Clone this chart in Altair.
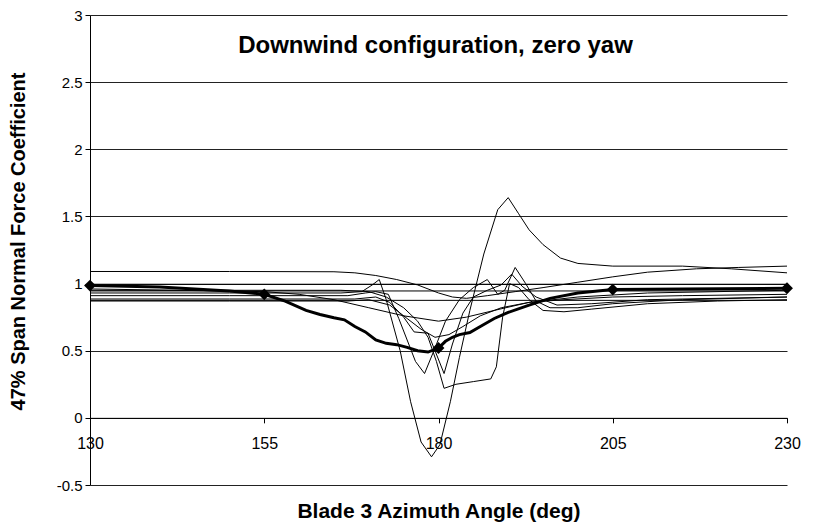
import altair as alt
import pandas as pd

FONT = "Liberation Sans"

# ---- data ----
x_ticks = [130, 155, 180, 205, 230]
y_ticks = [-0.5, 0, 0.5, 1, 1.5, 2, 2.5, 3]

s1_x = [130, 150, 165, 168, 171, 174, 177, 180, 182, 184, 187, 191, 195, 200, 205, 210, 217, 223, 230]
s1_y = [1.09, 1.09, 1.088, 1.08, 1.06, 1.03, 0.99, 0.93, 0.90, 0.89, 0.91, 0.94, 0.97, 1.01, 1.05, 1.085, 1.11, 1.12, 1.13]

s2_x = [130, 150, 166, 169, 170.5, 171.5, 172.5, 174.5, 176, 177.5, 179, 180.2, 181.7, 183, 184.5, 186.5, 188.5, 190, 191.5, 193, 195, 197.5, 200, 205, 215, 222, 230]
s2_y = [0.93, 0.93, 0.93, 0.94, 0.99, 1.03, 0.88, 0.5, 0.12, -0.18, -0.29, -0.2, 0.12, 0.45, 0.8, 1.22, 1.55, 1.64, 1.52, 1.4, 1.29, 1.19, 1.15, 1.13, 1.13, 1.11, 1.08]

s3_x = [130, 150, 167, 169.5, 171, 172.8, 174.3, 176.7, 178, 179.5, 181, 183, 185, 187, 188.5, 189.5, 191, 192.5, 194, 196, 200, 205, 215, 230]
s3_y = [0.91, 0.91, 0.91, 0.93, 0.94, 0.92, 0.74, 0.42, 0.33, 0.52, 0.72, 0.88, 0.97, 1.03, 0.92, 0.95, 1.12, 1.0, 0.87, 0.82, 0.82, 0.85, 0.88, 0.9]

s4_x = [130, 150, 166, 170, 172.5, 175, 177, 178.5, 179.7, 180.8, 182.5, 185, 187.5, 188.3, 189.2, 190.2, 191.5, 193, 195, 198, 202, 210, 220, 230]
s4_y = [0.95, 0.95, 0.95, 0.94, 0.9, 0.82, 0.72, 0.6, 0.42, 0.22, 0.25, 0.27, 0.29, 0.38, 0.75, 1.0, 0.97, 0.88, 0.8, 0.79, 0.81, 0.85, 0.87, 0.88]

s5_x = [130, 150, 168, 171, 173, 175, 176.5, 178.5, 179.5, 180.8, 182, 183.5, 185, 187, 189, 190.5, 192, 194, 197, 202, 210, 230]
s5_y = [0.885, 0.885, 0.885, 0.9, 0.86, 0.75, 0.64, 0.63, 0.5, 0.33, 0.55, 0.78, 0.9, 0.95, 0.99, 1.07, 0.98, 0.9, 0.84, 0.85, 0.88, 0.9]

s6_x = [130, 155, 160, 165, 170, 175, 180, 184, 188, 193, 200, 210, 230]
s6_y = [0.96, 0.94, 0.92, 0.88, 0.82, 0.76, 0.72, 0.75, 0.8, 0.86, 0.9, 0.93, 0.95]

s7_x = [130, 150, 167, 170, 173, 175.5, 177.5, 179.5, 181.5, 183.5, 186, 189, 193, 198, 205, 215, 230]
s7_y = [0.87, 0.87, 0.87, 0.88, 0.84, 0.74, 0.66, 0.6, 0.62, 0.68, 0.76, 0.82, 0.86, 0.88, 0.9, 0.91, 0.92]

s8_x = [130, 230]
s8_y = [0.995, 0.995]
s9_x = [130, 230]
s9_y = [0.945, 0.945]
s10_x = [130, 230]
s10_y = [0.875, 0.875]

mean_x = [130, 140, 150, 155, 158, 161, 163, 165, 166.5, 168, 169.5, 171, 172.5, 174, 175.5, 177, 178.5, 180, 181, 182, 183, 184.5, 186, 188, 190, 193, 196, 200, 205, 215, 230]
mean_y = [0.985, 0.975, 0.945, 0.92, 0.87, 0.8, 0.77, 0.745, 0.73, 0.68, 0.64, 0.58, 0.555, 0.545, 0.525, 0.5, 0.49, 0.52, 0.57, 0.6, 0.62, 0.635, 0.68, 0.74, 0.785, 0.84, 0.89, 0.93, 0.955, 0.96, 0.965]

marker_x = [130, 155, 180, 205, 230]
marker_y = [0.985, 0.92, 0.52, 0.955, 0.965]

chart_title = "Downwind configuration, zero yaw"
x_title = "Blade 3 Azimuth Angle (deg)"
y_title = "47% Span Normal Force Coefficient"

# ---- tables ----
thin_series = {
    "s1": (s1_x, s1_y), "s2": (s2_x, s2_y), "s3": (s3_x, s3_y), "s4": (s4_x, s4_y),
    "s5": (s5_x, s5_y), "s6": (s6_x, s6_y), "s7": (s7_x, s7_y), "s8": (s8_x, s8_y),
    "s9": (s9_x, s9_y), "s10": (s10_x, s10_y),
}
rows = []
for name, (xs, ys) in thin_series.items():
    for i, (a, b) in enumerate(zip(xs, ys)):
        rows.append({"x": a, "y": b, "series": name, "i": i})
thin_df = pd.DataFrame(rows)
mean_df = pd.DataFrame({"x": mean_x, "y": mean_y})
mark_df = pd.DataFrame({"x": marker_x, "y": marker_y})

W, H = 697, 470
PAD_L, PAD_T = 82, 7
PAD_R = 797 - PAD_L - W
PAD_B = 516 - PAD_T - H
x_offset = -H * 0.5 / 3.5

x_enc = alt.X(
    "x:Q",
    scale=alt.Scale(domain=[130, 230], nice=False, zero=False),
    axis=alt.Axis(
        values=x_ticks, grid=False, offset=x_offset, domainColor="black", tickColor="black",
        tickSize=5, labelPadding=13, labelFontSize=16, labelFont=FONT, labelColor="black",
        title=x_title, titleFont=FONT, titleFontSize=21, titleFontWeight="bold", titleColor="black",
        titleY=94, titleBaseline="middle", labelFlush=False,
    ),
)
y_enc = alt.Y(
    "y:Q",
    scale=alt.Scale(domain=[-0.5, 3], nice=False, zero=False),
    axis=alt.Axis(
        values=y_ticks, grid=True, gridColor="#222", gridWidth=1, domainColor="black",
        tickColor="black", tickSize=5, labelPadding=3, labelFontSize=15, labelFont=FONT,
        labelColor="black", format="~g", labelExpr="replace(datum.label, '\u2212', '-')",
        title=y_title, titleFont=FONT, titleFontSize=20, titleFontWeight="bold", titleColor="black",
        titleX=-71.5, titleY=226, titleBaseline="middle", titleAngle=-90, titleAlign="center",
    ),
)

thin_layer = alt.Chart(thin_df).mark_line(color="black", strokeWidth=1).encode(
    x=x_enc, y=y_enc, detail="series:N", order="i:Q"
)
mean_layer = alt.Chart(mean_df).mark_line(color="black", strokeWidth=3).encode(x=x_enc, y=y_enc)
pts_layer = alt.Chart(mark_df).mark_point(
    shape="diamond", filled=True, size=140, color="black", opacity=1
).encode(x=x_enc, y=y_enc)
title_layer = alt.Chart(pd.DataFrame({"t": [chart_title]})).mark_text(
    font=FONT, fontSize=24, fontWeight="bold", color="black", align="center", baseline="middle"
).encode(x=alt.value(W / 2 - 3), y=alt.value(31), text="t:N")

chart = alt.layer(thin_layer, mean_layer, pts_layer, title_layer).properties(
    width=W, height=H,
    autosize=alt.AutoSizeParams(type="none"),
    padding={"left": PAD_L, "top": PAD_T, "right": PAD_R, "bottom": PAD_B},
    background="white",
).configure_view(strokeWidth=0)

chart.save("out.html", embed_options={"renderer": "svg", "actions": False})
